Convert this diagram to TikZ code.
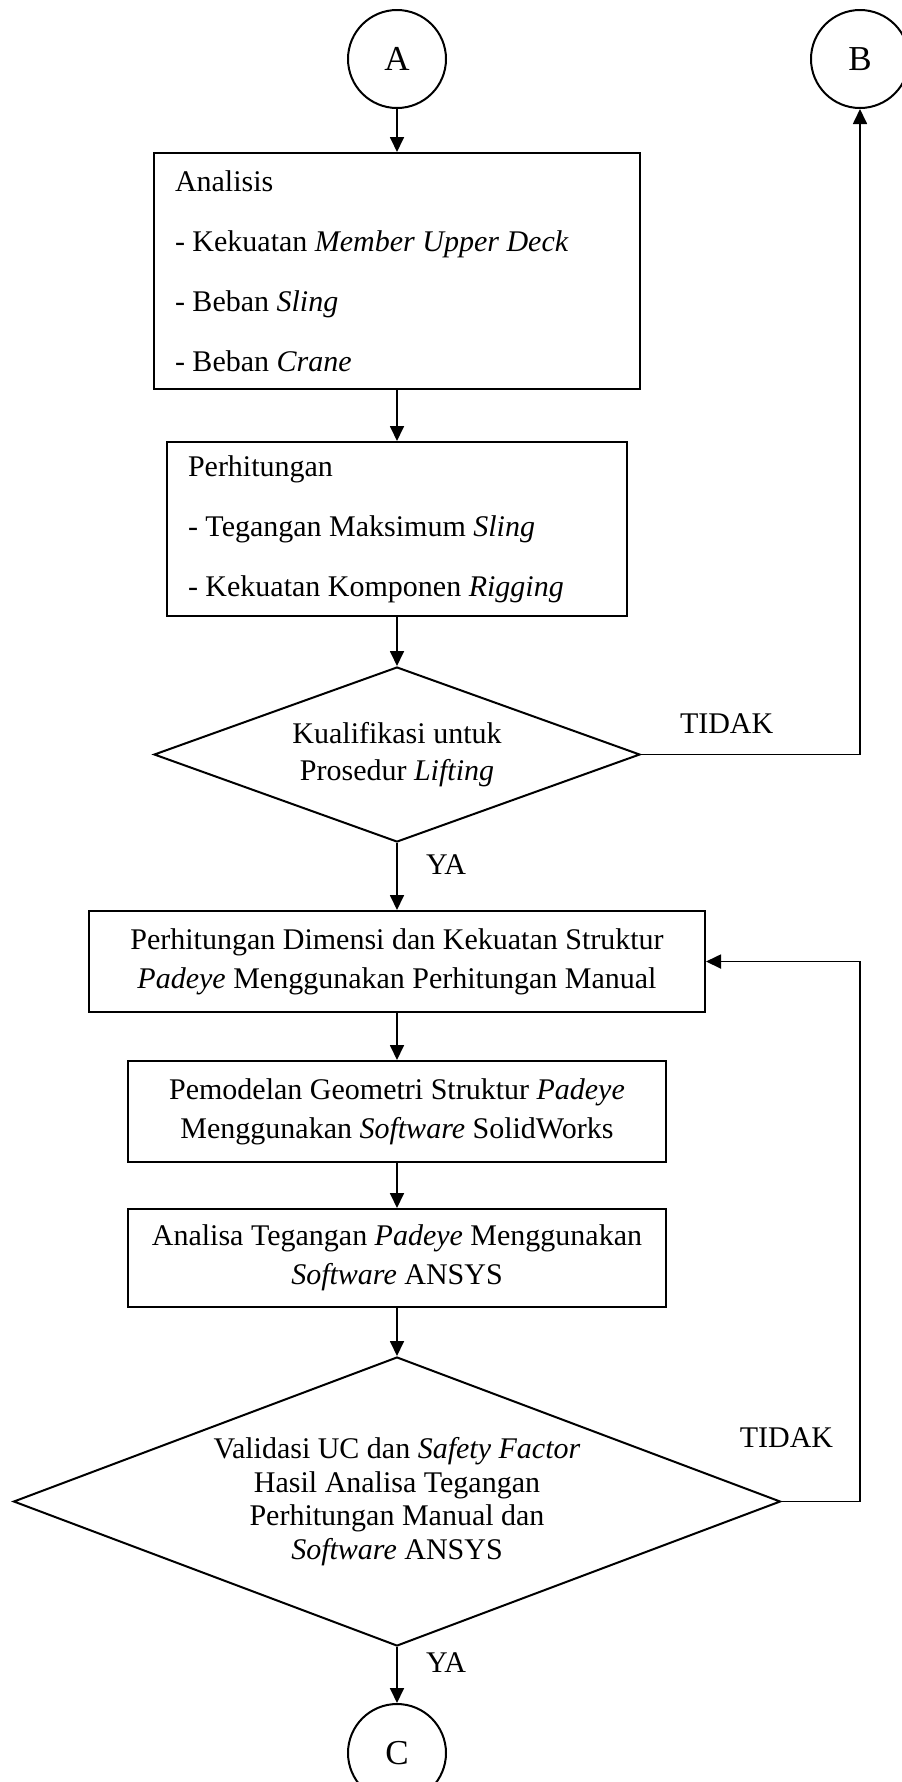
\documentclass[tikz,border=0pt]{standalone}
\usepackage{fontspec}
\setmainfont{Liberation Serif}
\usetikzlibrary{positioning, shapes.geometric, arrows.meta}

\tikzset{
	base/.style={draw, line width=0.8pt, font=\fontsize{12}{15.5}\selectfont},
	term/.style={base, circle, minimum size=39.2pt, inner sep=0pt, font=\fontsize{14}{16}\selectfont},
	listbox/.style={base, rectangle, align=flush left, inner xsep=8.4pt, inner ysep=3pt, font=\fontsize{12}{24}\selectfont},
	stepbox/.style={base, rectangle, align=center, inner sep=3pt, minimum height=40.4pt},
	decision/.style={base, diamond, align=center, inner sep=0pt},
	answer/.style={inner sep=0pt, outer sep=0pt, font=\fontsize{12}{14}\selectfont},
	flow/.style={line width=0.7pt, -{Triangle[length=6pt,width=5.6pt]}},
}

\begin{document}
\begin{tikzpicture}
	\useasboundingbox (0,0) rectangle (360.8pt,-712.8pt);

	\node[term] (A) at (158.8pt,-23.6pt) {A};
	\node[term, right=145.2pt of A] (B) {B};

	\node[listbox, below=17.2pt of A, text width=177.6pt, minimum height=94.4pt] (analisis)
		{Analisis\\- Kekuatan \textit{Member Upper Deck}\\- Beban \textit{Sling}\\- Beban \textit{Crane}};
	\node[listbox, below=20.4pt of analisis, text width=167.2pt, minimum height=69.6pt] (hitung)
		{Perhitungan\\- Tegangan Maksimum \textit{Sling}\\- Kekuatan Komponen \textit{Rigging}};
	\node[decision, below=19.6pt of hitung, aspect=2.78, minimum width=194.4pt, minimum height=70pt,
		font=\fontsize{12}{14.8}\selectfont] (kualifikasi)
		{Kualifikasi untuk\\Prosedur \textit{Lifting}};
	\node[stepbox, below=26.8pt of kualifikasi, minimum width=246.4pt] (manual)
		{Perhitungan Dimensi dan Kekuatan Struktur\\\textit{Padeye} Menggunakan Perhitungan Manual};
	\node[stepbox, below=18.8pt of manual, minimum width=215.2pt] (model)
		{Pemodelan Geometri Struktur \textit{Padeye}\\Menggunakan \textit{Software} SolidWorks};
	\node[stepbox, below=18pt of model, minimum width=215.2pt, minimum height=39.2pt] (ansys)
		{Analisa Tegangan \textit{Padeye} Menggunakan\\\textit{Software} ANSYS};
	\node[decision, below=19.2pt of ansys, aspect=2.65, minimum width=306.8pt, minimum height=115.6pt,
		font=\fontsize{12}{13.5}\selectfont] (validasi)
		{Validasi UC dan \textit{Safety Factor}\\Hasil Analisa Tegangan\\Perhitungan Manual dan\\\textit{Software} ANSYS};
	\node[term, below=22.4pt of validasi] (C) {C};

	\node[answer, above right=8.4pt and 15.6pt of kualifikasi.east] (tidak1) {TIDAK};
	\node[answer, below right=4.8pt and 11.6pt of kualifikasi.south] (ya1) {YA};
	\node[answer, above=21.6pt of validasi.east, xshift=2pt] (tidak2) {TIDAK};
	\node[answer, below right=2.4pt and 11.6pt of validasi.south] (ya2) {YA};

	\draw[flow] (A) -- (analisis);
	\draw[flow] (analisis) -- (hitung);
	\draw[flow] (hitung) -- (kualifikasi);
	\draw[flow] (kualifikasi) -- (manual);
	\draw[flow] (manual) -- (model);
	\draw[flow] (model) -- (ansys);
	\draw[flow] (ansys) -- (validasi);
	\draw[flow] (validasi) -- (C);
	\draw[flow] (kualifikasi.east) -| (B);
	\draw[flow] (validasi.east) -- (validasi.east -| B) |- (manual.east);
\end{tikzpicture}
\end{document}
